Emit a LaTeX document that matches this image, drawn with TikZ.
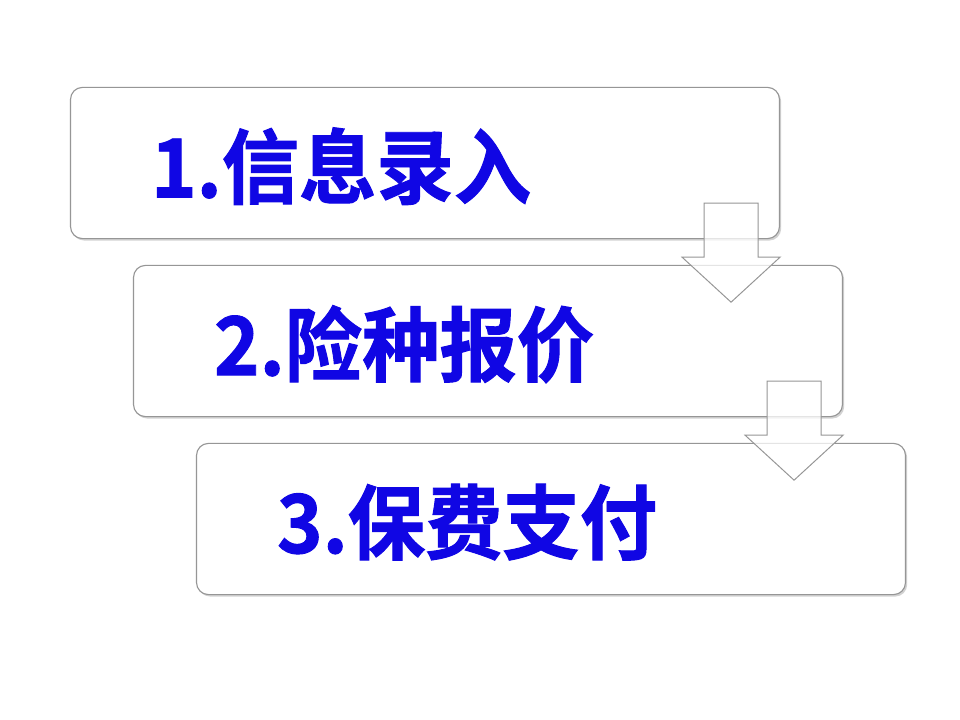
\documentclass[tikz,border=0pt]{standalone}
\usepackage{fontspec}
\usepackage{tikz}
\usetikzlibrary{shadows}
\newfontfamily\cjk[BoldFont={* Bold}, BoldFeatures={FakeBold=1.2}]{Noto Sans CJK SC}
\definecolor{stepblue}{RGB}{16,6,228}
\definecolor{stepline}{RGB}{150,150,150}
\tikzset{
  stepbox/.style={draw=stepline, line width=0.8pt, fill=white, rounded corners=0.3cm,
    minimum width=17.72cm, minimum height=3.78cm, inner sep=0pt,
    drop shadow={opacity=0.35, shadow xshift=1.2pt, shadow yshift=-1.4pt}},
  steptext/.style={anchor=west, inner sep=0pt, text=stepblue, yscale=1.05,
    font=\cjk\bfseries\fontsize{55}{60}\selectfont},
  steparrow/.style={draw=stepline, line width=0.7pt, fill=white, fill opacity=0.75}
}
\newcommand{\pbox}[4]{%
  \node[stepbox] (#1) at (#2) {};
  \node[steptext] (#1t) at ([xshift=2.02cm,yshift=-0.08cm]#1.west) {#4};}
\newcommand{\parrow}[1]{%
  \begin{scope}[shift={(#1.south east)}]
    \draw[steparrow] (-76,-36) -- (-22,-36) -- (-22,18) -- (0,18) -- (-49,63)
      -- (-98,18) -- (-76,18) -- cycle;
  \end{scope}}

\begin{document}
\begin{tikzpicture}[x=0.025cm, y=-0.025cm]
  \useasboundingbox[fill=white] (0,0) rectangle (960,720);
  \pbox{b1}{425,163}{}{1.信息录入}
  \pbox{b2}{488,341}{}{2.险种报价}
  \pbox{b3}{551,519}{}{3.保费支付}
  \parrow{b1} \parrow{b2}
\end{tikzpicture}
\end{document}
